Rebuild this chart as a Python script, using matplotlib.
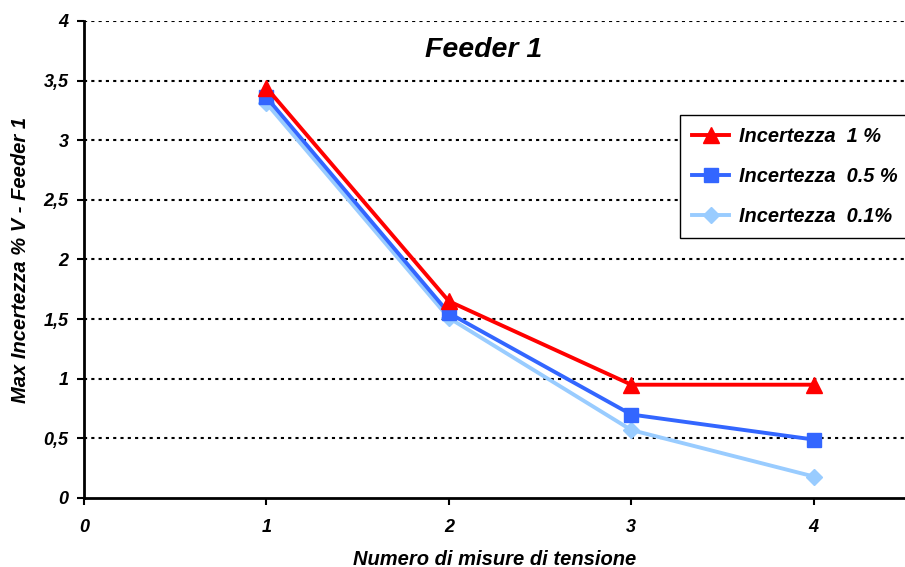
import matplotlib
matplotlib.use("Agg")
import matplotlib.pyplot as plt
from matplotlib.ticker import FuncFormatter

plt.rcParams['font.family'] = ['Liberation Sans', 'DejaVu Sans']

misure = [1, 2, 3, 4]
inc_1 = [3.44, 1.65, 0.95, 0.95]
inc_05 = [3.36, 1.55, 0.70, 0.49]
inc_01 = [3.31, 1.51, 0.57, 0.18]
x_ticks = [0, 1, 2, 3, 4]
y_ticks = [0, 0.5, 1, 1.5, 2, 2.5, 3, 3.5, 4]

fig = plt.figure(figsize=(9.05, 5.67), dpi=100)
ax = fig.add_axes([0.0928, 0.1217, 0.9072, 0.8413])

ax.plot(misure, inc_1, color='#FF0000', lw=2.8, marker='^', ms=11, label='Incertezza  1 %', zorder=5)
ax.plot(misure, inc_05, color='#3366FF', lw=2.8, marker='s', ms=9.5, label='Incertezza  0.5 %', zorder=4)
ax.plot(misure, inc_01, color='#99CCFF', lw=2.8, marker='D', ms=8.5, label='Incertezza  0.1%', zorder=3)

ax.set_xlim(0, 4.5)
ax.set_ylim(0, 4)
ax.set_xticks(x_ticks)
ax.set_yticks(y_ticks)
ax.yaxis.set_major_formatter(FuncFormatter(lambda v, p: ('%g' % v).replace('.', ',')))

for y in y_ticks[1:]:
    ax.axhline(y, color='black', lw=1.5, ls=(0, (1.5, 2)), zorder=1)

for s in ['top', 'right']:
    ax.spines[s].set_visible(False)
for s in ['left', 'bottom']:
    ax.spines[s].set_linewidth(2)

ax.tick_params(axis='both', direction='out', width=1.5, length=5, labelsize=13)
ax.tick_params(axis='x', pad=10)
ax.tick_params(axis='y', pad=6)
for lab in ax.get_xticklabels() + ax.get_yticklabels():
    lab.set_fontweight('bold')
    lab.set_fontstyle('italic')

ax.set_xlabel('Numero di misure di tensione', fontsize=14.5, fontweight='bold', fontstyle='italic', labelpad=10)
ax.set_ylabel('Max Incertezza % V - Feeder 1', fontsize=14.5, fontweight='bold', fontstyle='italic', labelpad=10)
ax.text(0.487, 0.94, 'Feeder 1', transform=ax.transAxes, ha='center', va='center',
        fontsize=20.5, fontweight='bold', fontstyle='italic')

leg = ax.legend(loc='upper left', bbox_to_anchor=(0.726, 0.803), borderaxespad=0,
                fancybox=False, edgecolor='black', framealpha=1, borderpad=0.6,
                labelspacing=1.05, handlelength=1.85, handletextpad=0.5,
                prop={'size': 14.4, 'weight': 'bold', 'style': 'italic'})
leg.get_frame().set_linewidth(1.0)

fig.savefig('out.png', dpi=100)
